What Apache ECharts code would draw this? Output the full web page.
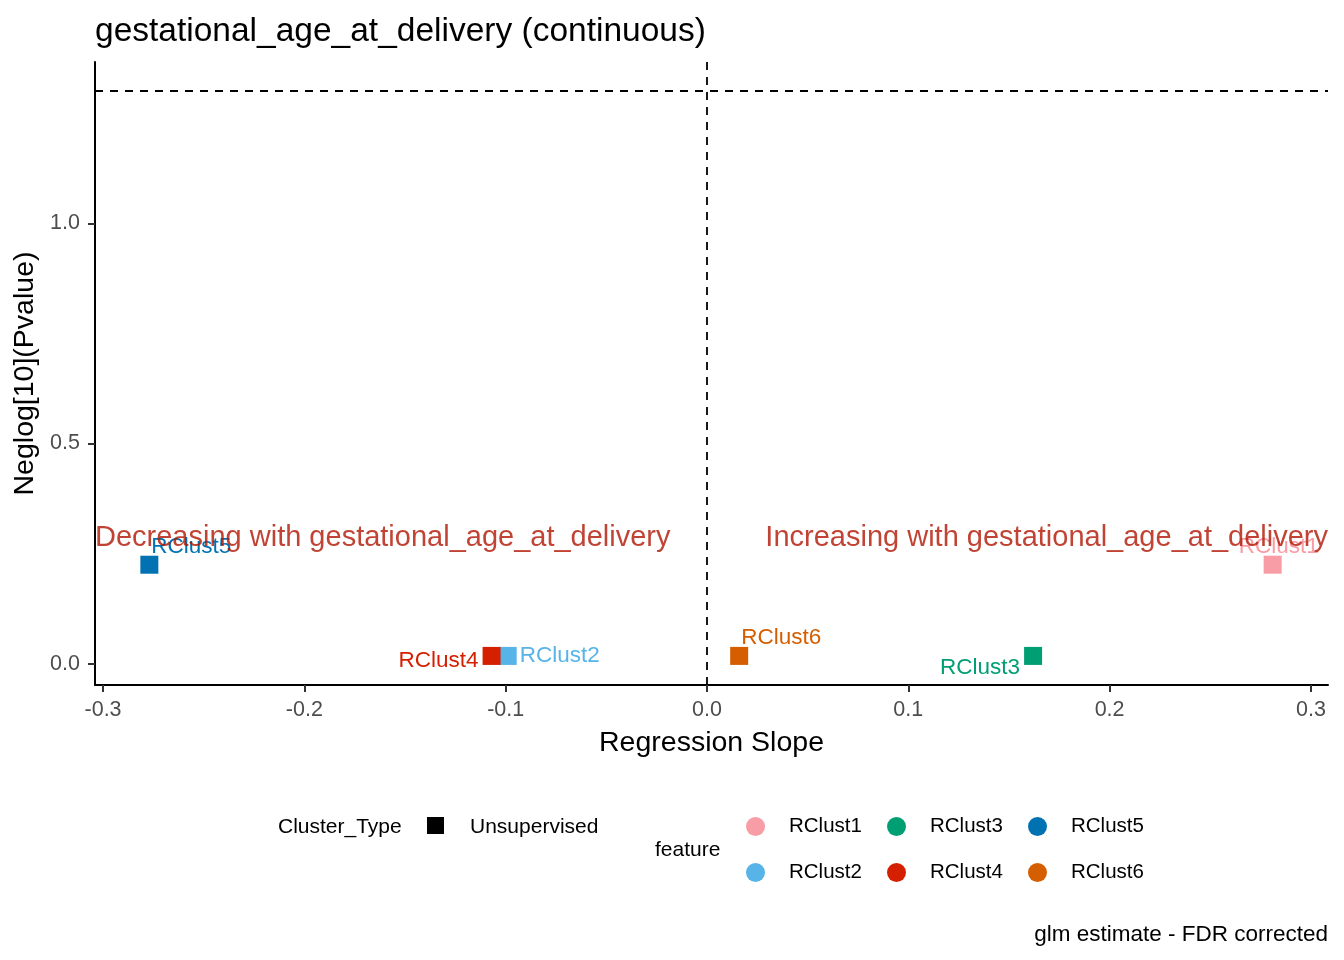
<!DOCTYPE html>
<html>
<head>
<meta charset="utf-8">
<title>gestational_age_at_delivery (continuous)</title>
<script src="https://cdn.jsdelivr.net/npm/echarts@6/dist/echarts.min.js"></script>
<style>
  html, body { margin: 0; padding: 0; background: #fff; }
  #chart { width: 1344px; height: 960px; }
</style>
</head>
<body>
<div id="chart"></div>
<script>
// data
var features = ['RClust1', 'RClust2', 'RClust3', 'RClust4', 'RClust5', 'RClust6'];
var slopes = [0.281, -0.099, 0.162, -0.107, -0.277, 0.016];
var neglogP = [0.225, 0.018, 0.018, 0.018, 0.225, 0.018];
var featureColors = ['#F89CA6', '#56B4E9', '#009E73', '#D41F00', '#0072B2', '#D55E00'];
var xTicks = [-0.3, -0.2, -0.1, 0.0, 0.1, 0.2, 0.3];
var yTicks = [0.0, 0.5, 1.0];
var pThreshold = -Math.log10(0.05);
var xRange = [-0.304, 0.3085];
var yRange = [-0.048, 1.366];

// where each repelled label sits relative to its point (dx, dy, align)
var labelPlace = {
  RClust1: [-34, -18, 'left'],
  RClust2: [12, 0, 'left'],
  RClust3: [-13, 12, 'right'],
  RClust4: [-13, 5, 'right'],
  RClust5: [2, -18, 'left'],
  RClust6: [2, -18, 'left']
};

var font = 'Liberation Sans, Arial, sans-serif';
var chart = echarts.init(document.getElementById('chart'));

var series = features.map(function (name, i) {
  var p = labelPlace[name];
  return {
    name: name,
    type: 'scatter',
    symbol: 'rect',
    symbolSize: 18,
    itemStyle: { color: featureColors[i], opacity: 1 },
    data: [[slopes[i], neglogP[i]]],
    label: {
      show: true,
      formatter: name,
      position: [9 + p[0], 9 + p[1]],
      align: p[2],
      verticalAlign: 'middle',
      color: featureColors[i],
      fontSize: 22.5,
      fontFamily: font
    },
    emphasis: { disabled: true },
    z: 3
  };
});

// reference lines
series.push({
  name: 'refs',
  type: 'scatter',
  data: [],
  silent: true,
  markLine: {
    symbol: 'none',
    silent: true,
    label: { show: false },
    lineStyle: { color: '#000', type: [8, 7], width: 1.8 },
    data: [{ xAxis: 0 }, { yAxis: pThreshold }]
  }
});

// direction annotations
series.push({
  name: 'notes',
  type: 'scatter',
  symbolSize: 0,
  silent: true,
  z: 4,
  data: [
    { value: [xRange[0], 0.286], label: { align: 'left', formatter: 'Decreasing with gestational_age_at_delivery' } },
    { value: [xRange[1], 0.286], label: { align: 'right', formatter: 'Increasing with gestational_age_at_delivery' } }
  ],
  label: {
    show: true,
    position: 'inside',
    verticalAlign: 'middle',
    color: '#B01400',
    fontSize: 29,
    fontFamily: font
  }
});

function legendColumn(names, left) {
  return {
    data: names.map(function (n) { return { name: n, icon: 'circle' }; }),
    orient: 'vertical',
    left: left,
    top: 811,
    itemWidth: 19,
    itemHeight: 19,
    itemGap: 25,
    selectedMode: false,
    textStyle: { fontSize: 20.5, lineHeight: 19, fontFamily: font, color: '#000', padding: [0, 0, 0, 19] }
  };
}

var option = {
  backgroundColor: '#fff',
  animation: false,
  title: {
    text: 'gestational_age_at_delivery (continuous)',
    left: 90,
    top: 10,
    textStyle: { fontSize: 33.5, fontWeight: 'normal', color: '#000', fontFamily: font }
  },
  grid: { left: 95, right: 16, top: 62, bottom: 275, containLabel: false },
  xAxis: {
    type: 'value',
    min: xRange[0],
    max: xRange[1],
    name: 'Regression Slope',
    nameLocation: 'middle',
    nameGap: 44,
    nameTextStyle: { fontSize: 28.5, color: '#000', fontFamily: font },
    splitLine: { show: false },
    axisLine: { onZero: false, lineStyle: { color: '#000', width: 2 } },
    axisTick: { show: true, length: 7, customValues: xTicks, lineStyle: { color: '#333', width: 2 } },
    axisLabel: {
      customValues: xTicks,
      fontSize: 21.5, color: '#4D4D4D', fontFamily: font, margin: 14,
      formatter: function (v) { return v.toFixed(1); }
    }
  },
  yAxis: {
    type: 'value',
    min: yRange[0],
    max: yRange[1],
    name: 'Neglog[10](Pvalue)',
    nameLocation: 'middle',
    nameGap: 53,
    nameRotate: 90,
    nameTextStyle: { fontSize: 28.5, color: '#000', fontFamily: font },
    splitLine: { show: false },
    axisLine: { show: true, onZero: false, lineStyle: { color: '#000', width: 2 } },
    axisTick: { show: true, length: 7, customValues: yTicks, lineStyle: { color: '#333', width: 2 } },
    axisLabel: {
      customValues: yTicks,
      fontSize: 21.5, color: '#4D4D4D', fontFamily: font, margin: 15,
      formatter: function (v) { return v.toFixed(1); }
    }
  },
  legend: [
    legendColumn(['RClust1', 'RClust2'], 741),
    legendColumn(['RClust3', 'RClust4'], 882),
    legendColumn(['RClust5', 'RClust6'], 1023)
  ],
  graphic: [
    { type: 'text', left: 278, top: 817, style: { text: 'Cluster_Type', fontSize: 21, fontFamily: font, fill: '#000' } },
    { type: 'rect', left: 427, top: 817, shape: { width: 17, height: 17 }, style: { fill: '#000' } },
    { type: 'text', left: 470, top: 817, style: { text: 'Unsupervised', fontSize: 21, fontFamily: font, fill: '#000' } },
    { type: 'text', left: 655, top: 840, style: { text: 'feature', fontSize: 21, fontFamily: font, fill: '#000' } },
    { type: 'text', right: 16, top: 923, style: { text: 'glm estimate - FDR corrected', fontSize: 22.5, fontFamily: font, fill: '#000' } }
  ],
  series: series
};

chart.setOption(option);
</script>
</body>
</html>
